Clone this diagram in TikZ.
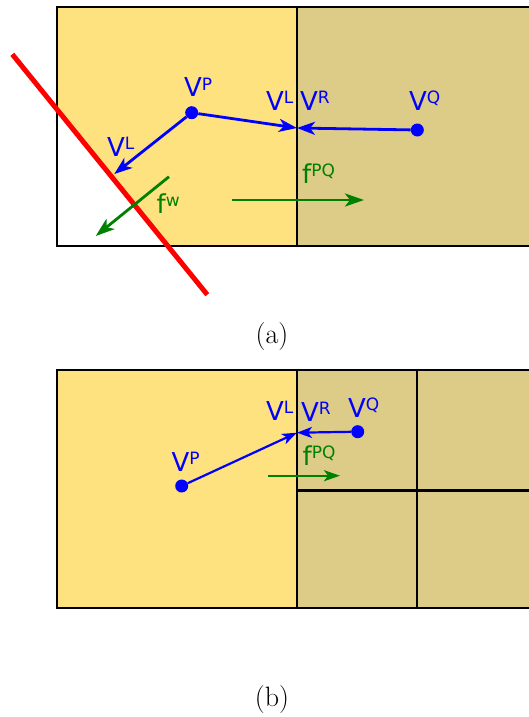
\documentclass[tikz,border=0pt]{standalone}
\usepackage{fontspec}
\usepackage{tikz}
\usetikzlibrary{arrows.meta,positioning}
\newfontfamily\lblfont{DejaVu Sans}
\definecolor{cellyellow}{RGB}{255,226,128}
\definecolor{celltan}{RGB}{221,204,136}
\definecolor{fluxgreen}{RGB}{0,128,0}
\newcommand{\vsup}[2]{#1\raisebox{6.5pt}{\fontsize{17}{17}\selectfont #2}}

\begin{document}
\begin{tikzpicture}[
x=1pt, y=-1pt,
cellline/.style={black, line width=2.8pt},
dot/.style={circle, fill=blue, inner sep=0pt, minimum size=13pt},
lbl/.style={anchor=base west, inner sep=0pt, blue, font={\lblfont\fontsize{26}{28}\selectfont}},
vel/.style={blue, line width=2.8pt, -{Stealth[length=18pt, width=13pt, inset=5pt]}},
velb/.style={blue, line width=2.2pt, -{Stealth[length=15pt, width=11pt, inset=4pt]}},
flux/.style={fluxgreen, line width=2.8pt, -{Stealth[length=19pt, width=13pt, inset=5pt]}},
fluxb/.style={fluxgreen, line width=2.2pt, -{Stealth[length=16pt, width=11pt, inset=4pt]}},
wall/.style={red, line width=5pt},
captxt/.style={font=\fontsize{28}{32}\selectfont}
]
\path[use as bounding box] (0,0) rectangle (529,717);

\fill[cellyellow] (57,7) rectangle (297,246);
\fill[celltan] (297,7) rectangle (535,246);
\fill[white] (57,109.4) -- (57,246) -- (167.8,246) -- cycle;
\draw[cellline] (535,7) -- (57,7) -- (57,246) -- (535,246);
\draw[cellline] (297,7) -- (297,246);

\coordinate (wa) at (12.3,54.3);
\coordinate (wb) at (207.3,294.7);
\draw[wall] (wa) -- (wb);

\node[dot] (pa) at (191.7,112.7) {};
\node[dot] (qa) at (417.3,130) {};
\coordinate (ifa) at (297,128);
\coordinate (la) at (114.3,174);
\draw[vel] (pa) -- (la);
\draw[vel] (pa) -- (ifa);
\draw[vel] (qa) -- (ifa);

\coordinate (fwa) at (169,176.7);
\coordinate (fwb) at (95.7,236);
\draw[flux] (fwa) -- (fwb);
\coordinate (fpqa) at (232,200);
\coordinate (fpqb) at (364,200);
\draw[flux] (fpqa) -- (fpqb);

\node[lbl] (vpa) at (184,96.7) {\vsup{V}{P}};
\node[lbl] (vlwa) at (107,156) {\vsup{V}{L}};
\node[lbl] (vla) at (266,110) {\vsup{V}{L}};
\node[lbl] (vra) at (300,110) {\vsup{V}{R}};
\node[lbl] (vqa) at (409,110) {\vsup{V}{Q}};
\node[lbl, fluxgreen] (fwlbl) at (156.5,213.3) {\vsup{f}{w}};
\node[lbl, fluxgreen] (fpqlbla) at (302,183.3) {\vsup{f}{PQ}};

\node[captxt] (capa) at (272,337) {(a)};

\fill[cellyellow] (57,370) rectangle (297,608);
\fill[celltan] (297,370) rectangle (535,608);
\draw[cellline] (535,370) -- (57,370) -- (57,608) -- (535,608);
\draw[cellline] (297,370) -- (297,608);
\draw[cellline] (417,370) -- (417,608);
\draw[cellline] (297,490.7) -- (535,490.7);

\node[dot] (pb) at (181.7,486) {};
\node[dot] (qb) at (357.7,431.7) {};
\coordinate (ifb) at (297,432.7);
\draw[velb] (pb) -- (ifb);
\draw[velb] (qb) -- (ifb);
\coordinate (fpqc) at (267.7,475.7);
\coordinate (fpqd) at (340,475.7);
\draw[fluxb] (fpqc) -- (fpqd);

\node[lbl] (vpb) at (171.5,471) {\vsup{V}{P}};
\node[lbl] (vlb) at (266,420) {\vsup{V}{L}};
\node[lbl] (vrb) at (301,421) {\vsup{V}{R}};
\node[lbl] (vqb) at (348,417.3) {\vsup{V}{Q}};
\node[lbl, fluxgreen] (fpqlblb) at (302.5,465) {\vsup{f}{PQ}};

\node[captxt] (capb) at (272,700) {(b)};
\end{tikzpicture}
\end{document}
